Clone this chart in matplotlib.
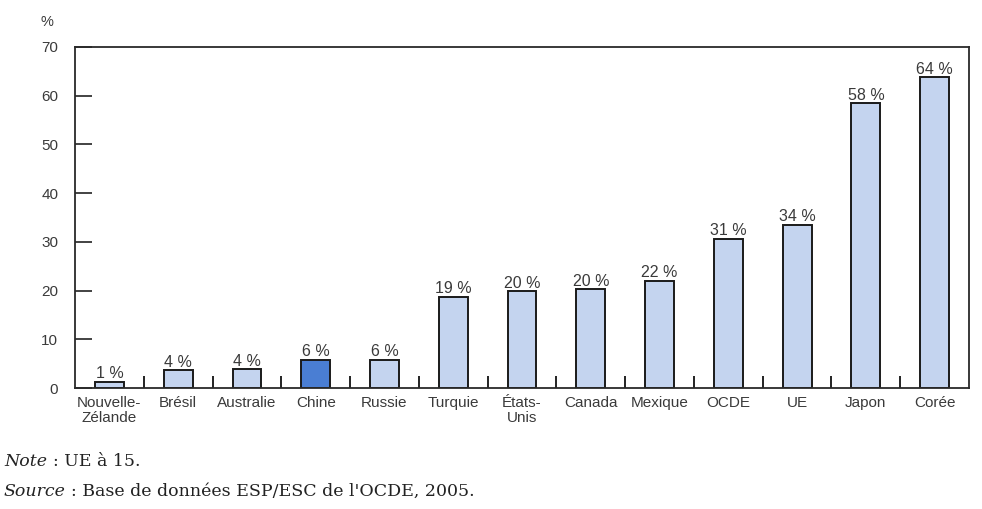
import matplotlib.pyplot as plt

pays = ['Nouvelle-\nZélande', 'Brésil', 'Australie', 'Chine', 'Russie', 'Turquie',
        'États-\nUnis', 'Canada', 'Mexique', 'OCDE', 'UE', 'Japon', 'Corée']
valeurs = [1.3, 3.6, 3.8, 5.8, 5.8, 18.7, 19.9, 20.3, 22.0, 30.6, 33.5, 58.4, 63.8]
surligne = 'Chine'

clair = '#c4d4ef'
fonce = '#4a7ed3'
gris = '#3a3a3a'

fig = plt.figure(figsize=(9.82, 5.09), dpi=100)
ax = fig.add_axes([0.0764, 0.2377, 0.9104, 0.67])

couleurs = [fonce if p == surligne else clair for p in pays]
x = range(len(pays))
ax.bar(x, valeurs, width=0.42, color=couleurs, edgecolor='#1a1a1a', linewidth=1.4)

for i, v in enumerate(valeurs):
    ax.text(i, v + 0.1, f'{v:.0f} %', ha='center', va='bottom',
            fontsize=11.5, color=gris, family='Liberation Sans')

ax.set_xlim(-0.5, len(pays) - 0.5)
ax.set_ylim(0, 70)
ax.set_yticks(range(0, 71, 10))
ax.tick_params(axis='y', direction='in', length=12, width=1.2, color='#222222',
               labelsize=11, labelcolor=gris, pad=12)

# petits traits entre les catégories
ax.set_xticks([i + 0.5 for i in range(len(pays) - 1)], minor=True)
ax.set_xticks(list(x))
ax.set_xticklabels(pays, fontsize=11, color=gris, family='Liberation Sans', linespacing=1.05)
ax.tick_params(axis='x', which='major', length=0, pad=6)
ax.tick_params(axis='x', which='minor', direction='in', length=9, width=1.4, color='#222222')
for lab in ax.get_yticklabels():
    lab.set_family('Liberation Sans')

for s in ax.spines.values():
    s.set_color('#2a2a2a')
    s.set_linewidth(1.3)

fig.text(47 / 982, 1 - 22 / 509, '%', fontsize=10.5, color=gris, family='Liberation Sans',
         ha='center', va='center')

# notes en bas : mot en italique suivi du texte normal
notes = [('Note', ': UE à 15.', 466), ('Source', ": Base de données ESP/ESC de l'OCDE, 2005.", 496)]
for mot, suite, y in notes:
    t = fig.text(4 / 982, 1 - y / 509, mot, fontsize=12.5, style='italic',
                 family='DejaVu Serif', va='baseline', color='#222222')
    fig.canvas.draw()
    ax.annotate(suite, xy=(1, 0), xycoords=t, xytext=(4, 0), textcoords='offset points',
                fontsize=12.5, family='DejaVu Serif', va='bottom', color='#222222',
                annotation_clip=False)

fig.savefig('out.png', dpi=100)
